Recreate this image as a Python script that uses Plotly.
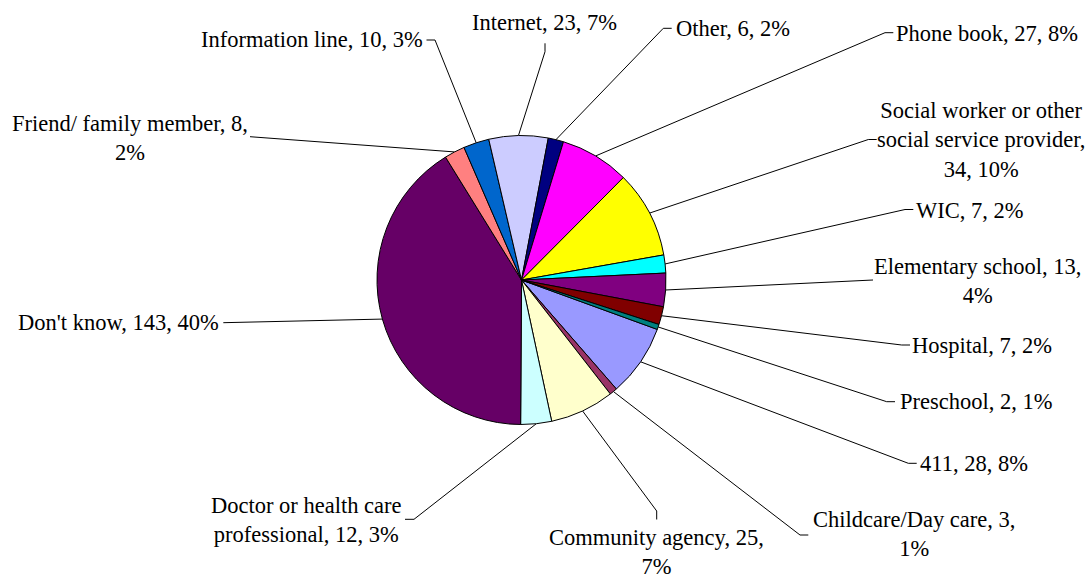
import math
import plotly.graph_objects as go

# Where people would look for information (counts and rounded shares)
categories = [
    "411", "Childcare/Day care", "Community agency",
    "Doctor or health care professional", "Don't know",
    "Friend/ family member", "Information line", "Internet", "Other",
    "Phone book", "Social worker or other social service provider", "WIC",
    "Elementary school", "Hospital", "Preschool",
]
counts = [28, 3, 25, 12, 143, 8, 10, 23, 6, 27, 34, 7, 13, 7, 2]
percents = [8, 1, 7, 3, 40, 2, 3, 7, 2, 8, 10, 2, 4, 2, 1]

colors = [
    "#9999FF", "#993366", "#FFFFCC", "#CCFFFF", "#660066", "#FF8080",
    "#0066CC", "#CCCCFF", "#000080", "#FF00FF", "#FFFF00", "#00FFFF",
    "#800080", "#800000", "#008080",
]

# Canvas and pie geometry (pixels)
W, H = 1089, 580
CX, CY, R = 521.5, 280.0, 144.5
ROTATION = 110

# Words per line of each wrapped label
words_per_line = [
    None, [3, 1], [3, 1], [4, 3], None, [4, 1], None, None, None,
    None, [4, 3, 2], None, [3, 1], None, None,
]

# Label placement: text centre, leader end at the label, tick end
label_pos = [
    (974.2, 463.3), (913.5, 534.2), (656.5, 551.5), (306.5, 519.5),
    (118.7, 322.7), (129.5, 137.5), (312.0, 39.5), (544.2, 22.7),
    (733.3, 28.3), (987.2, 33.0), (981.0, 139.8), (969.7, 210.0),
    (977.5, 280.5), (982.2, 345.0), (975.5, 401.7),
]
leader_end = [
    (908.3, 463.3), (800.0, 535.0), (656.7, 511.0), (414.0, 519.3),
    (231.6, 322.7), (258.0, 136.7), (435.0, 40.0), (545.0, 51.7),
    (663.3, 28.3), (885.0, 32.7), (868.3, 139.5), (905.0, 209.5),
    (870.0, 280.0), (901.7, 345.0), (886.7, 401.7),
]
tick_end = [
    (916.7, 463.3), (808.3, 535.0), (656.7, 519.5), (405.0, 519.3),
    (223.3, 322.7), (250.0, 136.7), (426.5, 40.0), (545.0, 43.3),
    (671.7, 28.3), (893.3, 32.7), (876.7, 139.5), (913.3, 209.5),
    (873.0, 280.0), (910.0, 345.0), (895.0, 401.7),
]

FONT = dict(family="Liberation Serif", size=22.5, color="black")


def label_text(i):
    words = f"{categories[i]}, {counts[i]}, {percents[i]}%".split(" ")
    split = words_per_line[i]
    if not split:
        return " ".join(words)
    lines, k = [], 0
    for n in split:
        lines.append(" ".join(words[k:k + n]))
        k += n
    return "<br>".join(lines)


fig = go.Figure()

fig.add_trace(go.Pie(
    labels=categories,
    values=counts,
    sort=False,
    direction="clockwise",
    rotation=ROTATION,
    marker=dict(colors=colors, line=dict(color="black", width=1)),
    textinfo="none",
    hoverinfo="label+value",
    showlegend=False,
    domain=dict(x=[(CX - R) / W, (CX + R) / W],
                y=[1 - (CY + R) / H, 1 - (CY - R) / H]),
))

# Leader lines from each slice's outer mid-point to its label
total = sum(counts)
xs, ys = [], []
cum = 0
for i, v in enumerate(counts):
    ang = math.radians(ROTATION + 360.0 * (cum + v / 2.0) / total)
    cum += v
    px = CX + R * math.sin(ang)
    py = CY - R * math.cos(ang)
    ex, ey = leader_end[i]
    kx, ky = tick_end[i]
    xs += [px, ex, kx, None]
    ys += [py, ey, ky, None]

fig.add_trace(go.Scatter(
    x=xs, y=ys, mode="lines",
    line=dict(color="black", width=1),
    hoverinfo="skip", showlegend=False,
))

for i in range(len(categories)):
    tx, ty = label_pos[i]
    fig.add_annotation(
        x=tx, y=ty, xref="x", yref="y",
        text=label_text(i), showarrow=False,
        xanchor="center", yanchor="middle", align="center",
        borderpad=0, borderwidth=0,
        font=FONT,
    )

fig.update_layout(
    width=W, height=H,
    margin=dict(l=0, r=0, t=0, b=0),
    paper_bgcolor="white", plot_bgcolor="rgba(0,0,0,0)",
    font=FONT,
    xaxis=dict(range=[0, W], visible=False, fixedrange=True),
    yaxis=dict(range=[H, 0], visible=False, fixedrange=True),
)

fig.write_html("out.html")
